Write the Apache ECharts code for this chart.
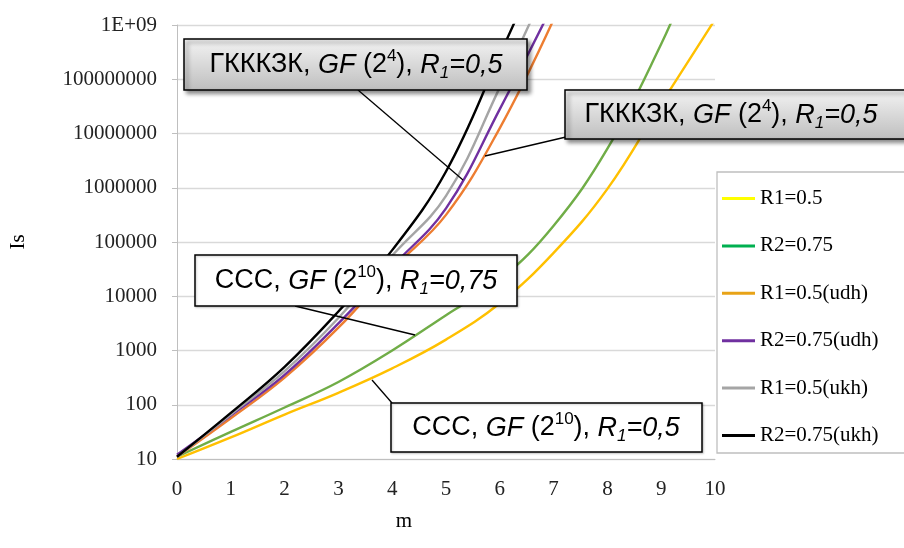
<!DOCTYPE html>
<html>
<head>
<meta charset="utf-8">
<script src="https://cdn.jsdelivr.net/npm/echarts@6/dist/echarts.min.js"></script>
<style>html,body{margin:0;padding:0;background:#fff}#c{width:904px;height:548px}</style>
</head>
<body>
<div id="c"></div>
<script>
// ---- data (m, Is) ----
const seriesNames = ['R1=0.5', 'R2=0.75', 'R1=0.5(udh)', 'R2=0.75(udh)', 'R1=0.5(ukh)', 'R2=0.75(ukh)'];
const m_R1 = [0, 1, 2, 3, 4, 5, 6, 7, 8, 9, 10];
const Is_R1 = [10, 25, 66, 166, 468, 1585, 7413, 63096, 954993, 35481339, 1258925412];
const m_R2 = [0, 1, 2, 3, 4, 5, 6, 7, 8, 9, 9.5];
const Is_R2 = [11, 31.6, 89.1, 263, 1000, 4467, 19953, 199526, 5248075, 446683592, 6309573445];
const m_R1udh = [0, 1, 2, 3, 4, 5, 6, 7];
const Is_R1udh = [11, 56.2, 316, 2630, 31623, 316228, 12589254, 1258925412];
const m_R2udh = [0, 1, 2, 3, 4, 5, 6, 7];
const Is_R2udh = [12, 63.1, 355, 3162, 35481, 416869, 28183829, 2511886432];
const m_R1ukh = [0, 1, 2, 3, 4, 5, 6, 7];
const Is_R1ukh = [11, 66.1, 417, 3981, 56234, 707946, 70794578, 10000000000];
const m_R2ukh = [0, 1, 2, 3, 4, 5, 6, 7];
const Is_R2ukh = [11, 70.8, 501, 5248, 70795, 1995262, 281838293, 44668359215];
const xTicks = [0, 1, 2, 3, 4, 5, 6, 7, 8, 9, 10];
const yTickLabels = ['10', '100', '1000', '10000', '100000', '1000000', '10000000', '100000000', '1E+09'];

const lineColors = ['#FFC000', '#70AD47', '#ED7D31', '#7030A0', '#A5A5A5', '#000000'];
const legendColors = ['#FFFF00', '#00B050', '#E8A317', '#7030A0', '#A5A5A5', '#000000'];

const xs = [m_R1, m_R2, m_R1udh, m_R2udh, m_R1ukh, m_R2ukh];
const ys = [Is_R1, Is_R2, Is_R1udh, Is_R2udh, Is_R1ukh, Is_R2ukh];

const chart = echarts.init(document.getElementById('c'), null, {renderer: 'canvas'});
const serif = 'Liberation Serif';
const sans = 'Liberation Sans';

function richStyles() {
  return {
    n: {fontFamily: sans, fontSize: 27, lineHeight: 34, color: '#000', verticalAlign: 'middle'},
    i: {fontFamily: sans, fontSize: 27, lineHeight: 34, color: '#000', fontStyle: 'italic', verticalAlign: 'middle'},
    sup: {fontFamily: sans, fontSize: 17, lineHeight: 20, color: '#000', verticalAlign: 'top'},
    sub: {fontFamily: sans, fontSize: 17, lineHeight: 20, color: '#000', fontStyle: 'italic', verticalAlign: 'bottom'}
  };
}
const grayFill = {type: 'linear', x: 0, y: 0, x2: 0, y2: 1, colorStops: [{offset: 0, color: '#F4F4F4'}, {offset: 1, color: '#BEBEBE'}]};

function box(x, y, w, h, fill, shadow) {
  return {type: 'rect', z: 100, shape: {x: x, y: y, width: w, height: h},
    style: {fill: fill, stroke: '#000', lineWidth: 1.5,
      shadowBlur: shadow ? 4 : 2, shadowOffsetX: shadow ? 3 : 1, shadowOffsetY: shadow ? 3 : 1,
      shadowColor: shadow ? 'rgba(0,0,0,0.45)' : 'rgba(0,0,0,0.2)'}};
}
function label(cx, cy, text) {
  return {type: 'text', z: 101, x: cx, y: cy,
    style: {text: text, rich: richStyles(), align: 'center', verticalAlign: 'middle'}};
}
function leader(x1, y1, x2, y2) {
  return {type: 'line', z: 99, shape: {x1: x1, y1: y1, x2: x2, y2: y2}, style: {stroke: '#000', lineWidth: 1.3}};
}
const txtG = '{n|ГКККЗК, }{i|GF}{n| (2}{sup|4}{n|), }{i|R}{sub|1}{i|=0,5}';
const txtC75 = '{n|CCC, }{i|GF}{n| (2}{sup|10}{n|), }{i|R}{sub|1}{i|=0,75}';
const txtC5 = '{n|CCC, }{i|GF}{n| (2}{sup|10}{n|), }{i|R}{sub|1}{i|=0,5}';

const option = {
  backgroundColor: '#fff',
  animation: false,
  grid: {left: 177, right: 189, top: 25, bottom: 89, containLabel: false},
  xAxis: {
    type: 'value', min: 0, max: 10, interval: 1,
    name: 'm', nameLocation: 'middle', nameGap: 52,
    nameTextStyle: {fontFamily: serif, fontSize: 21, color: '#000', padding: [0, 84, 0, 0]},
    axisLine: {onZero: false, lineStyle: {color: '#BFBFBF', width: 1}},
    axisTick: {show: false},
    axisLabel: {fontFamily: serif, fontSize: 21, color: '#222', margin: 20,
      formatter: function (v) { return xTicks.indexOf(v) >= 0 ? String(v) : ''; }},
    splitLine: {show: false}
  },
  yAxis: {
    type: 'log', logBase: 10, min: 10, max: 1e9,
    name: 'Is', nameLocation: 'middle', nameGap: 148, nameRotate: 90,
    nameTextStyle: {fontFamily: serif, fontSize: 21, color: '#000'},
    axisLine: {show: true, lineStyle: {color: '#BFBFBF', width: 1}},
    axisTick: {show: true, length: 5, lineStyle: {color: '#BFBFBF'}},
    axisLabel: {fontFamily: serif, fontSize: 21, color: '#222', margin: 20,
      formatter: function (v) { const k = Math.round(Math.log10(v)) - 1; return yTickLabels[k] || ''; }},
    splitLine: {show: true, lineStyle: {color: '#D9D9D9', width: 1.3}}
  },
  legend: {
    orient: 'vertical', left: 722, top: 188, padding: 0,
    itemWidth: 33, itemHeight: 3, itemGap: 26.4, icon: 'rect',
    textStyle: {fontFamily: serif, fontSize: 21, color: '#000', lineHeight: 21},
    data: seriesNames.map(function (n, i) { return {name: n, itemStyle: {color: legendColors[i]}}; }),
    z: 20
  },
  series: seriesNames.map(function (n, i) {
    return {
      name: n, type: 'line', smooth: 0.4, showSymbol: false, clip: true,
      lineStyle: {color: lineColors[i], width: 2.4},
      itemStyle: {color: lineColors[i]},
      z: 2 + i,
      data: xs[i].map(function (m, j) { return [m, ys[i][j]]; })
    };
  }),
  graphic: [
    {type: 'rect', z: 10, shape: {x: 717, y: 172, width: 200, height: 281}, style: {fill: '#fff', stroke: '#BFBFBF', lineWidth: 1.3}},
    leader(358, 90, 463, 180),
    box(184, 39, 343, 51, grayFill, true),
    label(356, 65, txtG),
    leader(566, 137, 485, 156),
    box(565, 90, 345, 49, grayFill, true),
    label(731, 115, txtG),
    leader(295, 306, 415, 335),
    box(195, 255, 322, 51, '#fff', false),
    label(356, 281, txtC75),
    leader(392, 403, 372, 380),
    box(391, 403, 311, 49, '#fff', false),
    label(546, 428, txtC5)
  ]
};
chart.setOption(option);
</script>
</body>
</html>
